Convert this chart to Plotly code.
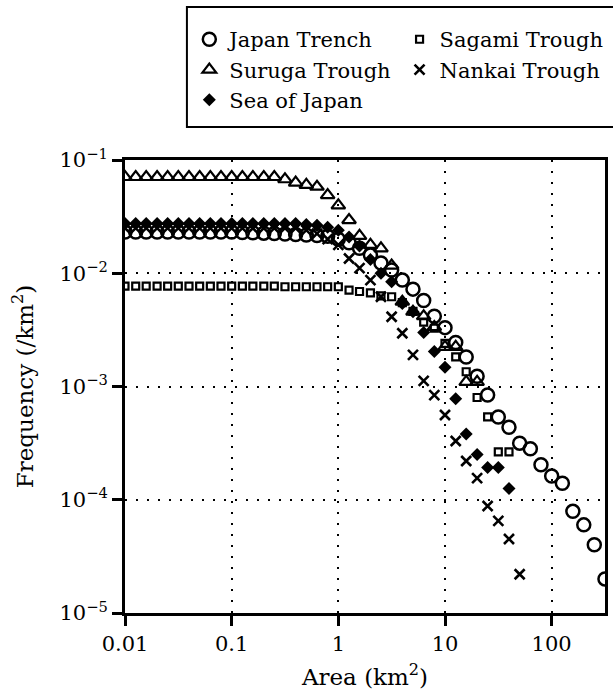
import plotly.graph_objects as go

# Bin centres (km^2), 0.1-decade log bins
AREA = [0.01, 0.0126, 0.0158, 0.02, 0.0251, 0.0316, 0.0398, 0.0501, 0.0631, 0.0794,
        0.1, 0.126, 0.158, 0.2, 0.251, 0.316, 0.398, 0.501, 0.631, 0.794,
        1.0, 1.26, 1.58, 2.0, 2.51, 3.16, 3.98, 5.01, 6.31, 7.94,
        10.0, 12.6, 15.8, 20.0, 25.1, 31.6, 39.8, 50.1, 63.1, 79.4,
        100.0, 126.0, 158.0, 200.0, 251.0, 316.0]

japan_trench = [0.0231, 0.0231, 0.0231, 0.0231, 0.0231, 0.0231, 0.0231, 0.0231, 0.0231, 0.0231,
                0.0231, 0.0229, 0.0228, 0.0226, 0.0224, 0.0222, 0.0220, 0.0218, 0.0215, 0.0212,
                0.0200, 0.0186, 0.0166, 0.0145, 0.0123, 0.0107, 0.0087, 0.00724, 0.00575, 0.00417,
                0.00331, 0.00245, 0.00182, 0.00123, 0.00084, 0.000537, 0.000437, 0.000316, 0.000282, 0.000204,
                0.000162, 0.000140, 7.9e-5, 6.0e-5, 4.0e-5, 2.0e-5]

suruga_trough = [0.0708, 0.0708, 0.0708, 0.0708, 0.0708, 0.0708, 0.0708, 0.0708, 0.0708, 0.0708,
                 0.0708, 0.0708, 0.0708, 0.0708, 0.0708, 0.0676, 0.0631, 0.0603, 0.0581, 0.0490,
                 0.0398, 0.0295, 0.0214, 0.0178, 0.0166, 0.0117, 0.0056, 0.00457, 0.00417, 0.00335,
                 0.00224, 0.00224, 0.0011, 0.0011]

sea_of_japan = [0.0275, 0.0275, 0.0275, 0.0275, 0.0275, 0.0275, 0.0275, 0.0275, 0.0275, 0.0275,
                0.0275, 0.0275, 0.0275, 0.0275, 0.0275, 0.0275, 0.0275, 0.0270, 0.0265, 0.0255,
                0.0240, 0.0209, 0.0174, 0.0132, 0.0100, 0.0084, 0.0054, 0.00457, 0.0030, 0.00204,
                0.00148, 0.00078, 0.00038, 0.000251, 0.000193, 0.000193, 0.000126]

sagami_trough = [0.0077, 0.0077, 0.0077, 0.0077, 0.0077, 0.0077, 0.0077, 0.0077, 0.0077, 0.0077,
                 0.0077, 0.0077, 0.0077, 0.0077, 0.0077, 0.0076, 0.0076, 0.0076, 0.0076, 0.0076,
                 0.0076, 0.0071, 0.0069, 0.0067, 0.0063, 0.0062, 0.0055, 0.0046, 0.0037, 0.00327,
                 0.0024, 0.00183, 0.00135, 0.0008, 0.00054, 0.000265, 0.000265]

nankai_trough = [0.0250, 0.0250, 0.0250, 0.0250, 0.0250, 0.0250, 0.0250, 0.0250, 0.0250, 0.0250,
                 0.0250, 0.0250, 0.0250, 0.0250, 0.0250, 0.0250, 0.0250, 0.0240, 0.0224, 0.0200,
                 0.0178, 0.0135, 0.0111, 0.0087, 0.0062, 0.00413, 0.00295, 0.0019, 0.00112, 0.00084,
                 0.00056, 0.00033, 0.00022, 0.000155, 8.8e-5, 6.5e-5, 4.5e-5, 2.2e-5]

X_TICKS = [0.01, 0.1, 1, 10, 100]
X_TICKTEXT = ["0.01", "0.1", "1", "10", "100"]
Y_TICKS = [1e-5, 1e-4, 1e-3, 1e-2, 1e-1]
Y_TICKTEXT = ["10<sup>−5</sup>", "10<sup>−4</sup>", "10<sup>−3</sup>", "10<sup>−2</sup>", "10<sup>−1</sup>"]

FONT = "DejaVu Serif"
BLACK = "black"

fig = go.Figure()

series = [
    ("Sagami Trough", sagami_trough, "square-open", 7, 2.2, "legend2", 1),
    ("Japan Trench", japan_trench, "circle-open", 13, 2.5, "legend", 1),
    ("Suruga Trough", suruga_trough, "triangle-up-open", 12, 2.2, "legend", 2),
    ("Sea of Japan", sea_of_japan, "diamond", 10, 0, "legend", 3),
    ("Nankai Trough", nankai_trough, "x-thin-open", 10, 2.6, "legend2", 2),
]

for name, vals, sym, size, lw, leg, rank in series:
    fig.add_trace(go.Scatter(
        x=AREA[:len(vals)], y=vals, mode="markers", name=name,
        legend=leg, legendrank=rank,
        marker=dict(symbol=sym, size=size, color=BLACK,
                    line=dict(color=BLACK, width=lw)),
    ))

axis_common = dict(
    type="log", showline=True, linecolor=BLACK, linewidth=3, mirror=True,
    ticks="outside", ticklen=10, tickwidth=3, tickcolor=BLACK,
    showgrid=True, gridcolor=BLACK, gridwidth=2, griddash="2px,9px",
    zeroline=False, tickfont=dict(family=FONT, size=21, color=BLACK),
)

fig.update_xaxes(range=[-2, 2.5], tickvals=X_TICKS, ticktext=X_TICKTEXT,
                 title=dict(text="Area (km<sup>2</sup>)", font=dict(family=FONT, size=23, color=BLACK),
                            standoff=14),
                 **axis_common)
fig.update_yaxes(range=[-5, -1], tickvals=Y_TICKS, ticktext=Y_TICKTEXT,
                 title=dict(text="Frequency (/km<sup>2</sup>)", font=dict(family=FONT, size=23, color=BLACK),
                            standoff=20),
                 **axis_common)

leg_common = dict(
    orientation="v", xanchor="left", yanchor="top",
    borderwidth=0, bgcolor="rgba(0,0,0,0)",
    font=dict(family=FONT, size=21, color=BLACK),
    itemsizing="trace", tracegroupgap=0,
)

fig.update_layout(
    width=613, height=700,
    margin=dict(l=125, r=8, t=160, b=87, autoexpand=False),
    paper_bgcolor="white", plot_bgcolor="white",
    font=dict(family=FONT, color=BLACK),
    legend=dict(x=0.134, y=1.311, **leg_common),
    legend2=dict(x=0.572, y=1.311, **leg_common),
    showlegend=True,
    shapes=[dict(type="rect", xref="paper", yref="paper",
                 x0=0.129, x1=1.04, y0=1.0728, y1=1.3377,
                 line=dict(color=BLACK, width=2), fillcolor="rgba(0,0,0,0)")],
)

fig.write_html("out.html")
